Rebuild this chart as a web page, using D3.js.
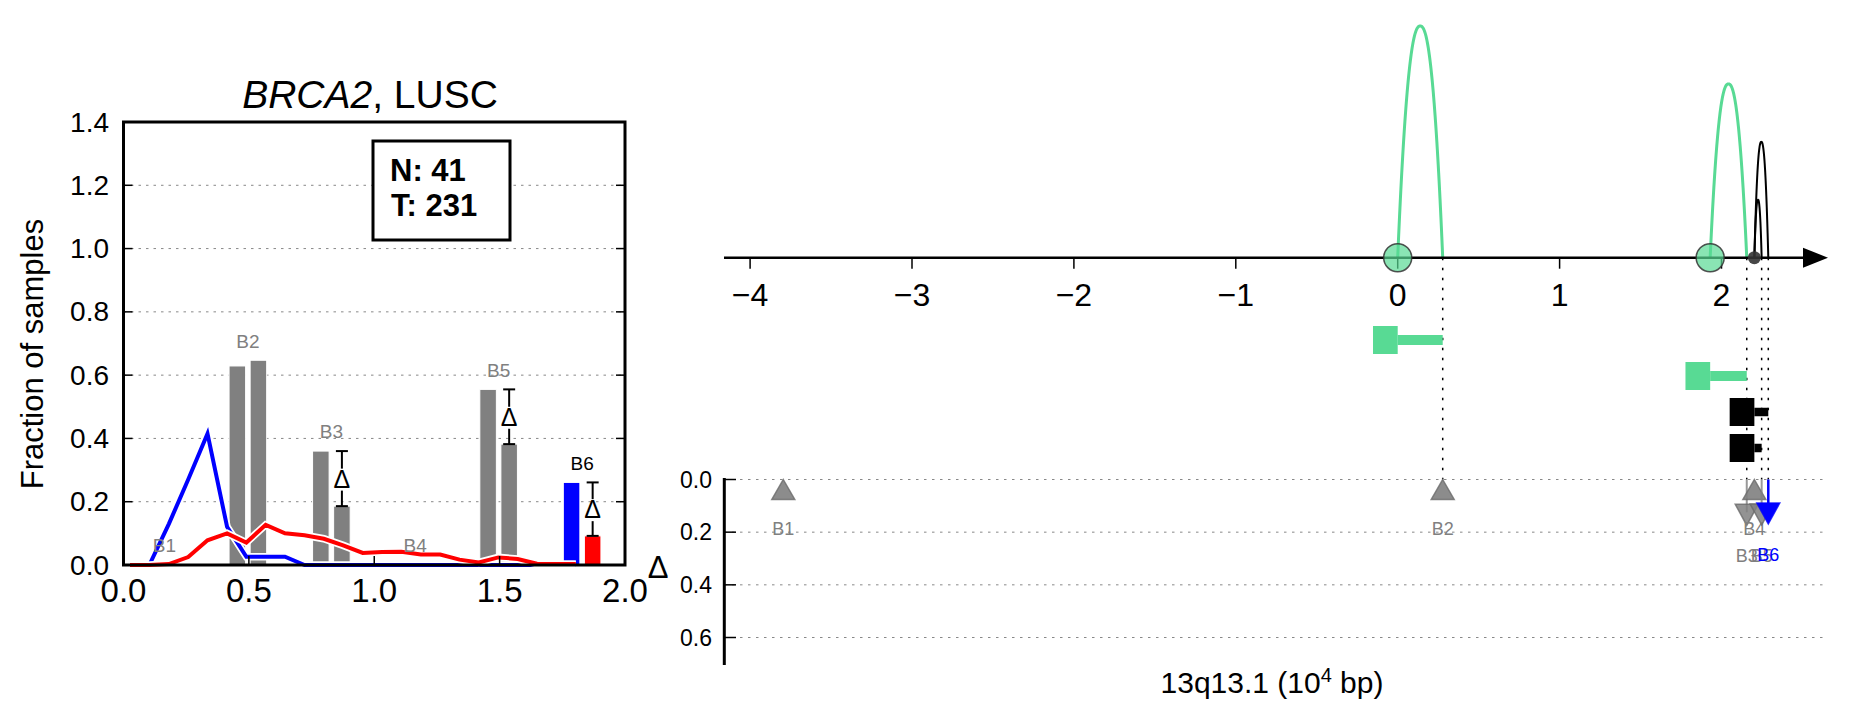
<!DOCTYPE html>
<html><head><meta charset="utf-8">
<script src="https://cdn.jsdelivr.net/npm/d3@7"></script>
<style>
html,body{margin:0;padding:0;background:#fff;}
text{font-family:"Liberation Sans",Arial,Helvetica,sans-serif;}
</style></head>
<body><svg id="c" width="1851" height="718"></svg>
<script>
// ---------- data ----------
const lineX = [0.026,0.103,0.181,0.258,0.335,0.413,0.490,0.567,0.644,0.722,0.799,0.876,0.954,1.031,1.108,1.186,1.263,1.340,1.417,1.495,1.572,1.649,1.727,1.804];
const blueVals = [0,0,0.13,0.27,0.415,0.121,0.026,0.026,0.026,0,0,0,0,0,0,0,0,0,0,0,0,0,0,0];
const redVals = [0,0,0.003,0.025,0.078,0.100,0.071,0.127,0.100,0.094,0.083,0.062,0.038,0.041,0.042,0.033,0.033,0.017,0.008,0.024,0.019,0.004,0.003,0.003];

const bpNames = ["B1","B2","B3","B4","B5","B6"];
const bpCenterL = [0.163,0.496,0.829,1.163,1.496,1.829];
const barA = [0,0.629,0.360,0,0.555,0.261];
const barB = [0,0.647,0.186,0,0.382,0.092];
const hasDelta = [false,false,true,false,true,true];
const bpPosR = [-3.795,0.278,2.156,2.203,2.248,2.289];

const yTicksL = [0,0.2,0.4,0.6,0.8,1.0,1.2,1.4];
const xTicksL = [0,0.5,1.0,1.5,2.0];
const xTicksR = [-4,-3,-2,-1,0,1,2];
const dTicks = [0,0.2,0.4,0.6];

const arcStart = [0,1.93,2.203,2.203];
const arcEnd = [0.278,2.156,2.289,2.248];
const arcCount = [4,3,2,1];
const arcGreen = [true,true,false,false];
const circlePos = [0,1.93,2.203];
const circleGreen = [true,true,false];

const GREEN = "#58da94", GRAY = "#808080";
const svg = d3.select("#c");
const fmt1 = d3.format(".1f");

// ---------- left panel ----------
const xL = d3.scaleLinear().domain([0,2]).range([123.5,625]);
const yL = d3.scaleLinear().domain([0,1.4]).range([565,122]);
const L = svg.append("g");

// grid
L.selectAll(".g").data(yTicksL.filter(d=>d>0&&d<1.4)).join("line")
  .attr("x1",xL(0)).attr("x2",xL(2)).attr("y1",d=>yL(d)).attr("y2",d=>yL(d))
  .attr("stroke","#888").attr("stroke-width",1).attr("stroke-dasharray","2.5,5");

// bars
const bw = 0.066, gap = 0.009;
bpNames.forEach((n,i)=>{
  const c = bpCenterL[i];
  const colA = i===5 ? "#0000ff" : GRAY, colB = i===5 ? "#ff0000" : GRAY;
  if (barA[i]>0) L.append("rect").attr("x",xL(c-gap-bw)).attr("width",xL(bw)-xL(0))
     .attr("y",yL(barA[i])).attr("height",yL(0)-yL(barA[i])).attr("fill",colA).attr("stroke","#fff").attr("stroke-width",1);
  if (barB[i]>0) L.append("rect").attr("x",xL(c+gap)).attr("width",xL(bw)-xL(0))
     .attr("y",yL(barB[i])).attr("height",yL(0)-yL(barB[i])).attr("fill",colB).attr("stroke","#fff").attr("stroke-width",1);
});

// lines
const lineGen = d3.line().x((d,i)=>xL(lineX[i])).y(d=>yL(d));
[[blueVals,"#0000ff"],[redVals,"#ff0000"]].forEach(([v,c])=>{
  L.append("path").attr("d",lineGen(v)).attr("fill","none").attr("stroke","#fff").attr("stroke-width",7.5).attr("stroke-linejoin","miter");
  L.append("path").attr("d",lineGen(v)).attr("fill","none").attr("stroke",c).attr("stroke-width",4).attr("stroke-linejoin","miter");
});

// delta error bars + labels
bpNames.forEach((n,i)=>{
  const c = bpCenterL[i];
  if (hasDelta[i]) {
    const xe = xL(c+gap+bw/2), y1 = yL(barA[i]), y2 = yL(barB[i]), m = (y1+y2)/2;
    const g = L.append("g").attr("stroke","#000").attr("stroke-width",2);
    g.append("line").attr("x1",xe-6).attr("x2",xe+6).attr("y1",y1).attr("y2",y1);
    g.append("line").attr("x1",xe-6).attr("x2",xe+6).attr("y1",y2).attr("y2",y2);
    g.append("line").attr("x1",xe).attr("x2",xe).attr("y1",y1).attr("y2",m-10);
    g.append("line").attr("x1",xe).attr("x2",xe).attr("y1",m+12).attr("y2",y2);
    L.append("text").attr("x",xe).attr("y",m+9).attr("text-anchor","middle").attr("font-size",25).text("Δ");
  }
  const top = Math.max(barA[i],barB[i]);
  L.append("text").attr("x",xL(c)).attr("y",yL(top+0.04)).attr("text-anchor","middle")
    .attr("font-size",19).attr("fill", i===5 ? "#000" : GRAY).text(n);
});

// spines & ticks
L.append("rect").attr("x",xL(0)).attr("y",yL(1.4)).attr("width",xL(2)-xL(0)).attr("height",yL(0)-yL(1.4))
  .attr("fill","none").attr("stroke","#000").attr("stroke-width",3);
yTicksL.forEach(t=>{
  L.append("line").attr("x1",xL(0)).attr("x2",xL(0)+9).attr("y1",yL(t)).attr("y2",yL(t)).attr("stroke","#000").attr("stroke-width",1.5);
  L.append("line").attr("x1",xL(2)-9).attr("x2",xL(2)).attr("y1",yL(t)).attr("y2",yL(t)).attr("stroke","#000").attr("stroke-width",1.5);
  L.append("text").attr("x",109).attr("y",yL(t)+9.5).attr("text-anchor","end").attr("font-size",28).text(fmt1(t));
});
xTicksL.forEach(t=>{
  L.append("line").attr("x1",xL(t)).attr("x2",xL(t)).attr("y1",yL(0)).attr("y2",yL(0)-9).attr("stroke","#000").attr("stroke-width",1.5);
  L.append("text").attr("x",xL(t)).attr("y",602).attr("text-anchor","middle").attr("font-size",33).text(fmt1(t));
});
L.append("text").attr("transform","translate(43,354) rotate(-90)").attr("text-anchor","middle").attr("font-size",31).text("Fraction of samples");
const title = L.append("text").attr("x",370).attr("y",108).attr("text-anchor","middle").attr("font-size",39);
title.append("tspan").attr("font-style","italic").text("BRCA2");
title.append("tspan").text(", LUSC");

// N/T box
L.append("rect").attr("x",373).attr("y",141).attr("width",137).attr("height",99).attr("fill","#fff").attr("stroke","#000").attr("stroke-width",3);
L.append("text").attr("x",390).attr("y",181).attr("font-size",31).attr("font-weight","bold").text("N: 41");
L.append("text").attr("x",391).attr("y",216).attr("font-size",31).attr("font-weight","bold").text("T: 231");

// ---------- right panel ----------
const R = svg.append("g");
const xR = d3.scaleLinear().domain([-4,2]).range([750.1,1721.5]);
const axisY = 257.7;
const yArc = d3.scaleLinear().domain([0,4]).range([axisY,26]);
const yD = d3.scaleLinear().domain([0,0.6]).range([479.5,637.5]);
const rowY = d3.scaleLinear().domain([0,3]).range([340,448]);

// delta grid
dTicks.forEach(t=>{
  R.append("line").attr("x1",724).attr("x2",1828).attr("y1",yD(t)).attr("y2",yD(t))
   .attr("stroke","#888").attr("stroke-width",1).attr("stroke-dasharray","2.5,5.5");
});

// dotted verticals at arc ends
arcEnd.forEach(e=>{
  R.append("line").attr("x1",xR(e)).attr("x2",xR(e)).attr("y1",axisY).attr("y2",yD(0))
   .attr("stroke","#000").attr("stroke-width",1.5).attr("stroke-dasharray","2.5,7.5");
});

// arcs
const P = 2.3;
arcStart.forEach((s,i)=>{
  const e = arcEnd[i], h = axisY - yArc(arcCount[i]);
  const pts = d3.range(0,101).map(k=>{const u=k/100; return [xR(s+(e-s)*u), axisY - h*(1-Math.pow(Math.abs(2*u-1),P))];});
  R.append("path").attr("d",d3.line()(pts)).attr("fill","none")
   .attr("stroke", arcGreen[i]?GREEN:"#000").attr("stroke-width", arcGreen[i]?3:2);
});

// axis line + arrow
R.append("line").attr("x1",724).attr("x2",1805).attr("y1",axisY).attr("y2",axisY).attr("stroke","#000").attr("stroke-width",2.5);
R.append("path").attr("d",`M1803,${axisY-10}L1828,${axisY}L1803,${axisY+10}Z`).attr("fill","#000");
xTicksR.forEach(t=>{
  R.append("line").attr("x1",xR(t)).attr("x2",xR(t)).attr("y1",axisY).attr("y2",axisY+11).attr("stroke","#000").attr("stroke-width",1.5);
  R.append("text").attr("x",xR(t)).attr("y",306).attr("text-anchor","middle").attr("font-size",32).text(t<0?"\u2212"+Math.abs(t):t);
});

// circles
circlePos.forEach((p,i)=>{
  if (circleGreen[i]) R.append("circle").attr("cx",xR(p)).attr("cy",axisY).attr("r",14)
      .attr("fill",GREEN).attr("fill-opacity",0.7).attr("stroke","#333").attr("stroke-width",1.5).attr("stroke-opacity",0.85);
  else R.append("circle").attr("cx",xR(p)).attr("cy",axisY).attr("r",6.5).attr("fill","#333").attr("fill-opacity",0.9);
});

// T-shapes
arcStart.forEach((s,i)=>{
  const col = arcGreen[i]?GREEN:"#000", y = rowY(i), bh = arcGreen[i]?10:8.5;
  R.append("rect").attr("x",xR(s)-24.7).attr("y",y-14).attr("width",24.7).attr("height",28).attr("fill",col);
  R.append("rect").attr("x",xR(s)).attr("y",y-bh/2).attr("width",xR(arcEnd[i])-xR(s)).attr("height",bh).attr("fill",col);
});

// delta axis
R.append("line").attr("x1",724.3).attr("x2",724.3).attr("y1",478).attr("y2",665).attr("stroke","#000").attr("stroke-width",3);
dTicks.forEach(t=>{
  R.append("line").attr("x1",724.3).attr("x2",736).attr("y1",yD(t)).attr("y2",yD(t)).attr("stroke","#000").attr("stroke-width",1.5);
  R.append("text").attr("x",712).attr("y",yD(t)+8).attr("text-anchor","end").attr("font-size",23).text(fmt1(t));
});
R.append("text").attr("x",658).attr("y",578).attr("text-anchor","middle").attr("font-size",31).text("Δ");

// triangles
bpNames.forEach((n,i)=>{
  const x = xR(bpPosR[i]);
  const d = hasDelta[i] ? barA[i]-barB[i] : 0;
  const col = i===5 ? "#0000ff" : GRAY;
  if (d===0) {
    const y0 = yD(0);
    R.append("path").attr("d",`M${x},${y0}L${x+11.5},${y0+20}L${x-11.5},${y0+20}Z`)
      .attr("fill",GRAY).attr("fill-opacity",0.9).attr("stroke","#6a6a6a").attr("stroke-width",1.5).attr("stroke-opacity",0.8);
    R.append("text").attr("x",x).attr("y",yD(0.2)+3).attr("text-anchor","middle").attr("font-size",18).attr("fill",GRAY).text(n);
  } else {
    const tip = yD(d), base = tip-21;
    R.append("line").attr("x1",x).attr("x2",x).attr("y1",yD(0)).attr("y2",base+8)
      .attr("stroke",col).attr("stroke-width", i===5?2.5:2).attr("stroke-opacity", i===5?1:0.8);
    R.append("path").attr("d",`M${x-11.5},${base}L${x+11.5},${base}L${x},${tip}Z`)
      .attr("fill",col).attr("fill-opacity", i===5?1:0.85).attr("stroke", i===5?"#0000ff":"#6a6a6a").attr("stroke-width",1.5).attr("stroke-opacity",0.8);
    R.append("text").attr("x",x).attr("y",tip+37).attr("text-anchor","middle").attr("font-size",18).attr("fill",col).text(n);
  }
});

// x label
const xl = R.append("text").attr("x",1272).attr("y",693).attr("text-anchor","middle").attr("font-size",30);
xl.append("tspan").text("13q13.1 (10");
xl.append("tspan").attr("font-size",20).attr("dy",-11).text("4");
xl.append("tspan").attr("dy",11).text(" bp)");
</script></body></html>
